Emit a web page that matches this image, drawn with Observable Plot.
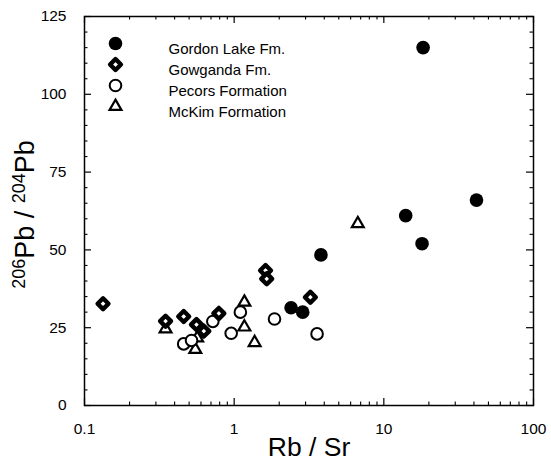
<!DOCTYPE html>
<html><head><meta charset="utf-8">
<script src="https://cdn.jsdelivr.net/npm/d3@7"></script>
<script src="https://cdn.jsdelivr.net/npm/@observablehq/plot@0.6"></script>
<style>body{margin:0;background:#fff}</style>
</head><body><div id="chart"></div>
<script>
// Data
const gordonRbSr   = [18.3, 41.6, 14.0, 18.0, 3.8, 2.4, 2.87];
const gordonPb     = [115, 66, 61, 52, 48.4, 31.4, 30.0];
const gowgandaRbSr = [0.133, 0.348, 0.46, 0.56, 0.627, 0.79, 1.62, 1.65, 3.23];
const gowgandaPb   = [32.7, 27.1, 28.6, 26.0, 23.9, 29.6, 43.4, 40.7, 34.8];
const pecorsRbSr   = [0.46, 0.519, 0.72, 0.955, 1.10, 1.86, 3.58];
const pecorsPb     = [19.8, 20.9, 27.0, 23.2, 30.0, 27.8, 23.0];
const mckimRbSr    = [0.348, 0.55, 0.566, 1.17, 1.17, 1.37, 6.7];
const mckimPb      = [24.6, 18.0, 21.7, 33.2, 25.2, 20.2, 58.4];

const seriesNames = ["Gordon Lake Fm.", "Gowganda Fm.", "Pecors Formation", "McKim Formation"];

const xMajorTicks = [0.1, 1, 10, 100];
const xTickLabels = ["0.1", "1", "10", "100"];
const xMinorTicks = [0.2,0.3,0.4,0.5,0.6,0.7,0.8,0.9, 2,3,4,5,6,7,8,9, 20,30,40,50,60,70,80,90];
const yMajorTicks = [0, 25, 50, 75, 100, 125];
const yMinorTicks = [5,10,15,20, 30,35,40,45, 55,60,65,70, 80,85,90,95, 105,110,115,120];

const toRows = (xs, ys) => xs.map((x, i) => ({x, y: ys[i]}));
const gordon = toRows(gordonRbSr, gordonPb);
const gowganda = toRows(gowgandaRbSr, gowgandaPb);
const pecors = toRows(pecorsRbSr, pecorsPb);
const mckim = toRows(mckimRbSr, mckimPb);

const W = 551, H = 468, mL = 84, mR = 18, mT = 16, mB = 63;
const fw = W - mL - mR, fh = H - mT - mB;
const majorLen = 7, minorLen = 3.5;

// symbol styles
const sty = [
  {symbol: "circle", r: 6.8, fill: "black", stroke: "none"},
  {symbol: "diamond2", r: 4.9, fill: "white", stroke: "black", strokeWidth: 4.4, strokeLinejoin: "round"},
  {symbol: "circle", r: 5.8, fill: "white", stroke: "black", strokeWidth: 2},
  {symbol: "triangle", r: 4.4, fill: "white", stroke: "black", strokeWidth: 2.2}
];
const datasets = [gordon, gowganda, pecors, mckim];

const marks = [];
// ticks, inward on all four sides
marks.push(Plot.tickX(xMajorTicks, {x: d => d, insetTop: fh - majorLen, stroke: "black", strokeWidth: 1.2}));
marks.push(Plot.tickX(xMajorTicks, {x: d => d, insetBottom: fh - majorLen, stroke: "black", strokeWidth: 1.2}));
marks.push(Plot.tickX(xMinorTicks, {x: d => d, insetTop: fh - minorLen, stroke: "black", strokeWidth: 1.1}));
marks.push(Plot.tickX(xMinorTicks, {x: d => d, insetBottom: fh - minorLen, stroke: "black", strokeWidth: 1.1}));
marks.push(Plot.tickY(yMajorTicks, {y: d => d, insetRight: fw - majorLen, stroke: "black", strokeWidth: 1.2}));
marks.push(Plot.tickY(yMajorTicks, {y: d => d, insetLeft: fw - majorLen, stroke: "black", strokeWidth: 1.2}));
marks.push(Plot.tickY(yMinorTicks, {y: d => d, insetRight: fw - minorLen, stroke: "black", strokeWidth: 1.1}));
marks.push(Plot.tickY(yMinorTicks, {y: d => d, insetLeft: fw - minorLen, stroke: "black", strokeWidth: 1.1}));
marks.push(Plot.frame({stroke: "black", strokeWidth: 1.5}));
marks.push(Plot.axisX({ticks: xMajorTicks, tickSize: 0, tickPadding: 17, fontSize: 15.5,
  tickFormat: d => xTickLabels[xMajorTicks.indexOf(d)], label: null}));
marks.push(Plot.axisY({ticks: yMajorTicks, tickSize: 0, tickPadding: 18, fontSize: 15.5, label: null}));

// data points
[3, 2, 1, 0].forEach(i => {
  marks.push(Plot.dot(datasets[i], {x: "x", y: "y", ...sty[i]}));
});

// legend inside the frame
seriesNames.forEach((name, i) => {
  marks.push(Plot.dot([name], {x: null, y: null, frameAnchor: "top-left", dx: 31, dy: 27 + 21 * i, ...sty[i]}));
  marks.push(Plot.text([name], {x: null, y: null, text: d => d, frameAnchor: "top-left", dx: 84, dy: 27 + 21 * i,
    textAnchor: "start", fontSize: 15, fill: "black"}));
});

// x axis title
marks.push(Plot.text(["Rb / Sr"], {x: null, y: null, text: d => d, frameAnchor: "bottom", dy: 50, fontSize: 26.5, fill: "black"}));

const chart = Plot.plot({
  width: W, height: H,
  marginLeft: mL, marginRight: mR, marginTop: mT, marginBottom: mB,
  style: {fontFamily: "'Liberation Sans', Arial, Helvetica, sans-serif", color: "black", background: "white"},
  x: {type: "log", domain: [0.1, 100]},
  y: {domain: [0, 125]},
  marks
});

// y axis title with superscripts (real text)
const svg = d3.select(chart);
const yt = svg.append("text")
  .attr("transform", `translate(34,${mT + fh / 2 + 4}) rotate(-90)`)
  .attr("text-anchor", "middle")
  .attr("font-family", "'Liberation Sans', Arial, Helvetica, sans-serif")
  .attr("font-size", 27)
  .style("fill", "#000");
yt.append("tspan").attr("font-size", 18).attr("dy", -9).text("206");
yt.append("tspan").attr("dy", 9).text("Pb / ");
yt.append("tspan").attr("font-size", 18).attr("dy", -9).text("204");
yt.append("tspan").attr("dy", 9).text("Pb");

document.getElementById("chart").appendChild(chart);
</script>
</body></html>
